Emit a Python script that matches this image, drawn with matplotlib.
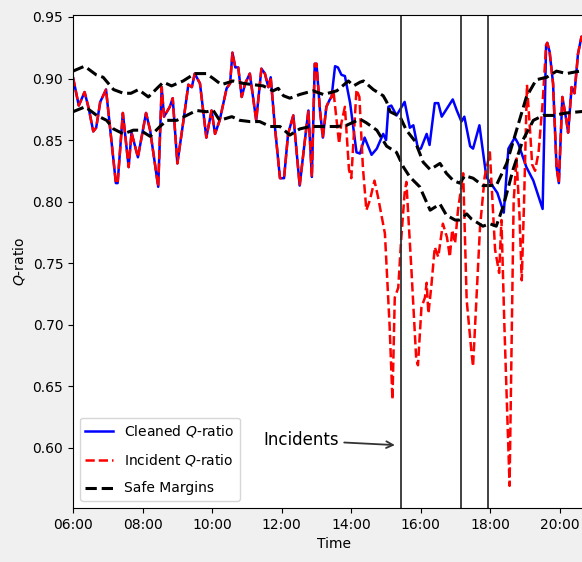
import numpy as np
import pandas as pd
import matplotlib
matplotlib.use("Agg")
import matplotlib.pyplot as plt
import matplotlib.dates as mdates

# minutes after 06:00 and Q-ratio values
t_am = [0, 10, 20, 27, 35, 40, 47, 57, 74, 77, 86, 96, 101, 112, 126, 133, 147, 153,
        157, 167, 172, 180, 190, 199, 205, 210, 219, 230, 239, 245, 253, 265, 271, 275,
        280, 285, 291, 297, 305, 316, 325, 331, 337, 341, 348, 357, 364, 371, 380, 391,
        400, 406, 412, 417, 420, 426, 431, 437, 443, 446]
q_am = [0.901, 0.878, 0.889, 0.876, 0.857, 0.860, 0.881, 0.891, 0.815, 0.815, 0.872,
        0.828, 0.856, 0.836, 0.872, 0.858, 0.812, 0.893, 0.869, 0.877, 0.884, 0.831,
        0.864, 0.895, 0.893, 0.904, 0.896, 0.852, 0.874, 0.855, 0.866, 0.892, 0.896,
        0.921, 0.909, 0.909, 0.885, 0.896, 0.904, 0.866, 0.908, 0.904, 0.893, 0.901,
        0.862, 0.819, 0.819, 0.855, 0.870, 0.813, 0.850, 0.874, 0.820, 0.912, 0.912,
        0.874, 0.852, 0.877, 0.883, 0.885]

t_clean_mid = [452, 457, 463, 469, 478, 489, 495, 503, 515, 524, 535, 540, 544, 549,
               558, 572, 581, 587, 595, 600, 610, 615, 624, 630, 636, 655, 662, 670,
               675, 685, 690, 701, 713, 719, 732, 743, 751, 762, 768, 782, 794, 810]
q_clean_mid = [0.910, 0.909, 0.903, 0.902, 0.880, 0.840, 0.839, 0.852, 0.838, 0.843,
               0.855, 0.850, 0.877, 0.878, 0.870, 0.881, 0.860, 0.862, 0.843, 0.843,
               0.855, 0.846, 0.880, 0.880, 0.869, 0.883, 0.874, 0.865, 0.869, 0.845,
               0.843, 0.862, 0.820, 0.816, 0.807, 0.791, 0.843, 0.852, 0.847, 0.828,
               0.817, 0.794]

t_inc_mid = [449, 459, 463, 469, 476, 480, 489, 494, 500, 506, 512, 520, 526, 538, 546,
             551, 555, 561, 566, 572, 575, 584, 592, 595, 601, 607, 610, 613, 618, 624,
             630, 638, 645, 650, 654, 659, 664, 673, 679, 687, 690, 702, 710, 719, 728,
             735, 739, 744, 753, 757, 760, 765, 770, 774, 778, 783, 788, 792, 797, 803,
             810]
q_inc_mid = [0.891, 0.847, 0.864, 0.877, 0.826, 0.819, 0.891, 0.885, 0.828, 0.793,
             0.801, 0.817, 0.804, 0.774, 0.700, 0.639, 0.722, 0.730, 0.769, 0.807,
             0.816, 0.742, 0.672, 0.667, 0.714, 0.722, 0.734, 0.709, 0.731, 0.763,
             0.755, 0.782, 0.771, 0.755, 0.777, 0.766, 0.793, 0.823, 0.720, 0.679,
             0.666, 0.779, 0.820, 0.840, 0.761, 0.742, 0.785, 0.700, 0.569, 0.700,
             0.800, 0.835, 0.790, 0.736, 0.800, 0.895, 0.860, 0.830, 0.825, 0.840,
             0.880]

t_pm = [816, 818, 822, 828, 834, 838, 844, 851, 854, 860, 865, 871, 877, 885]
q_pm = [0.927, 0.929, 0.922, 0.896, 0.828, 0.815, 0.885, 0.866, 0.856, 0.893, 0.888,
        0.920, 0.934, 0.930]

t_upper = [0, 20, 40, 52, 70, 87, 100, 113, 130, 147, 156, 170, 190, 210, 230, 242, 256,
           276, 294, 311, 328, 345, 354, 363, 374, 391, 414, 432, 455, 475, 484, 495,
           501, 518, 535, 541, 547, 564, 575, 590, 604, 616, 633, 644, 656, 667, 676,
           690, 707, 719, 730, 748, 765, 782, 799, 817, 834, 851, 874, 895]
q_upper = [0.906, 0.910, 0.903, 0.901, 0.891, 0.888, 0.888, 0.891, 0.885, 0.893, 0.897,
           0.894, 0.898, 0.904, 0.904, 0.900, 0.895, 0.898, 0.896, 0.895, 0.894, 0.890,
           0.892, 0.886, 0.884, 0.887, 0.890, 0.887, 0.890, 0.898, 0.894, 0.897, 0.898,
           0.891, 0.886, 0.881, 0.873, 0.869, 0.858, 0.849, 0.832, 0.826, 0.831, 0.823,
           0.817, 0.815, 0.821, 0.819, 0.813, 0.813, 0.813, 0.831, 0.858, 0.885, 0.899,
           0.901, 0.906, 0.904, 0.906, 0.907]

t_lower = [0, 21, 41, 58, 70, 87, 104, 116, 133, 150, 162, 179, 196, 213, 230, 242, 253,
           274, 288, 305, 322, 340, 357, 374, 391, 409, 432, 455, 472, 495, 506, 524,
           541, 558, 570, 581, 598, 616, 633, 644, 659, 667, 679, 687, 707, 719, 730,
           742, 759, 776, 794, 811, 828, 851, 874, 895]
q_lower = [0.873, 0.877, 0.870, 0.866, 0.859, 0.855, 0.858, 0.858, 0.853, 0.861, 0.866,
           0.866, 0.870, 0.874, 0.873, 0.874, 0.866, 0.869, 0.866, 0.865, 0.865, 0.861,
           0.861, 0.854, 0.859, 0.861, 0.861, 0.861, 0.862, 0.867, 0.864, 0.858, 0.845,
           0.840, 0.828, 0.820, 0.812, 0.793, 0.798, 0.789, 0.785, 0.785, 0.790, 0.786,
           0.780, 0.782, 0.780, 0.796, 0.826, 0.850, 0.866, 0.870, 0.870, 0.872, 0.873,
           0.874]

incident_times = ["15:26", "17:10", "17:56"]

day = pd.Timestamp("2020-01-01 06:00")


def to_time(mins):
    return day + pd.to_timedelta(np.asarray(mins), unit="m")


t_clean = to_time(t_am + t_clean_mid + t_pm)
q_clean = q_am + q_clean_mid + q_pm
t_inc = to_time(t_am + t_inc_mid + t_pm)
q_inc = q_am + q_inc_mid + q_pm

fig = plt.figure(figsize=(5.82, 5.62), dpi=100, facecolor="#f0f0f0")
# axes runs past the right edge of the figure, like the cropped original
ax = fig.add_axes([0.1254, 0.0961, 0.8966, 0.8772])

ax.plot(t_clean, q_clean, color="blue", lw=1.8, label="Cleaned $Q$-ratio")
ax.plot(t_inc, q_inc, "r--", lw=1.8, label="Incident $Q$-ratio")
ax.plot(to_time(t_upper), q_upper, "k--", lw=2.2, label="Safe Margins")
ax.plot(to_time(t_lower), q_lower, "k--", lw=2.2)

for s in incident_times:
    ax.axvline(pd.Timestamp("2020-01-01 " + s), color="#333333", lw=1.3)

ax.annotate("Incidents", xy=(to_time(560), 0.602), xytext=(to_time(393), 0.606),
            fontsize=12, ha="center", va="center",
            arrowprops=dict(arrowstyle="->", color="#333333", lw=1.3))

ax.set_xlim(to_time(0), to_time(900))
ax.set_ylim(0.551, 0.9516)
ax.set_yticks(np.arange(0.60, 0.951, 0.05))
ax.xaxis.set_major_locator(mdates.HourLocator(byhour=range(6, 22, 2)))
ax.xaxis.set_major_formatter(mdates.DateFormatter("%H:%M"))
ax.tick_params(labelsize=10)

ax.set_xlabel("Time", fontsize=10)
ax.set_ylabel("$Q$-ratio", fontsize=10)

ax.legend(loc="lower left", fontsize=10, labelspacing=0.95)

fig.savefig("out.png", dpi=100, facecolor=fig.get_facecolor())
